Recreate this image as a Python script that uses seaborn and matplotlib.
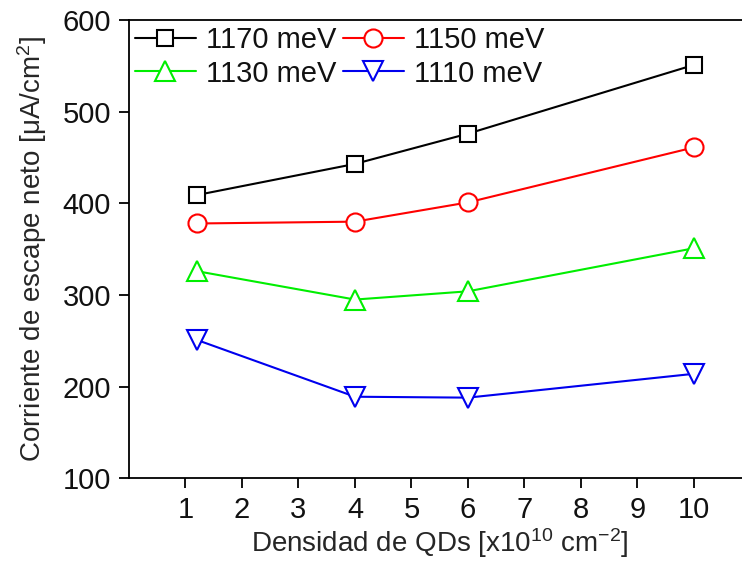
import matplotlib
matplotlib.use("Agg")
import matplotlib.pyplot as plt
import seaborn as sns
import pandas as pd

# QD density (x10^10 cm^-2) and net escape current (uA/cm^2) per photon energy
densidad = [1.2, 4, 6, 10]
series_labels = ["1170 meV", "1150 meV", "1130 meV", "1110 meV"]
corriente_1170 = [409, 443, 476, 551]
corriente_1150 = [378, 380, 401, 461]
corriente_1130 = [326, 295, 304, 351]
corriente_1110 = [251, 189, 188, 214]

colores = ["#000000", "#ff0000", "#00ee00", "#0000ee"]
marcadores = ["s", "o", "^", "v"]
tamanos = [11, 13, 14, 14]

rows = []
for lab, vals in zip(series_labels,
                     [corriente_1170, corriente_1150, corriente_1130, corriente_1110]):
    for x, y in zip(densidad, vals):
        rows.append({"densidad": x, "corriente": y, "serie": lab})
df = pd.DataFrame(rows)

sns.set_theme(style="ticks")
plt.rcParams["font.family"] = ["Liberation Sans", "DejaVu Sans"]
plt.rcParams["mathtext.fontset"] = "custom"
plt.rcParams["mathtext.rm"] = "Liberation Sans"
plt.rcParams["mathtext.it"] = "Liberation Sans"
plt.rcParams["text.color"] = "#111111"

fig = plt.figure(figsize=(7.42, 5.62), dpi=100)
ax = fig.add_axes([129 / 742, 1 - 478.3 / 562, (129.6 + 11 * 56.44 - 129) / 742, (478.3 - 20) / 562])

sns.lineplot(data=df, x="densidad", y="corriente", hue="serie", style="serie",
             hue_order=series_labels, style_order=series_labels,
             palette=colores, markers=marcadores, dashes=False,
             linewidth=1.5, ax=ax, legend=False)

for line, ms in zip(ax.lines, tamanos):
    line.set_markerfacecolor("white")
    line.set_markersize(ms)
    line.set_markeredgewidth(1.5)
    line.set_markeredgecolor(line.get_color())

ax.set_xlim(0, 11)
ax.set_ylim(100, 600)
ax.set_xticks(range(1, 11))
ax.set_yticks(range(100, 601, 100))
ax.tick_params(axis="both", direction="out", length=7, width=1.3, labelsize=21,
               colors="black", labelcolor="#111111", pad=6)
for s in ax.spines.values():
    s.set_linewidth(1.3)
    s.set_color("black")

ax.set_xlabel(r"Densidad de QDs [x10$^{10}$ cm$^{-2}$]", fontsize=20, labelpad=1)
ax.set_ylabel(r"Corriente de escape neto [$\mu$A/cm$^{2}$]", fontsize=20, labelpad=10)

# row-wise legend order: 1170, 1150 / 1130, 1110
orden = [0, 2, 1, 3]
ax.legend([ax.lines[i] for i in orden], [series_labels[i] for i in orden],
          loc="upper left", ncol=2, frameon=False,
          fontsize=21, handlelength=2.1, handletextpad=0.35, columnspacing=0.2,
          labelspacing=0.2, borderaxespad=0.15, borderpad=0.05)

fig.savefig("out.png", dpi=100)
